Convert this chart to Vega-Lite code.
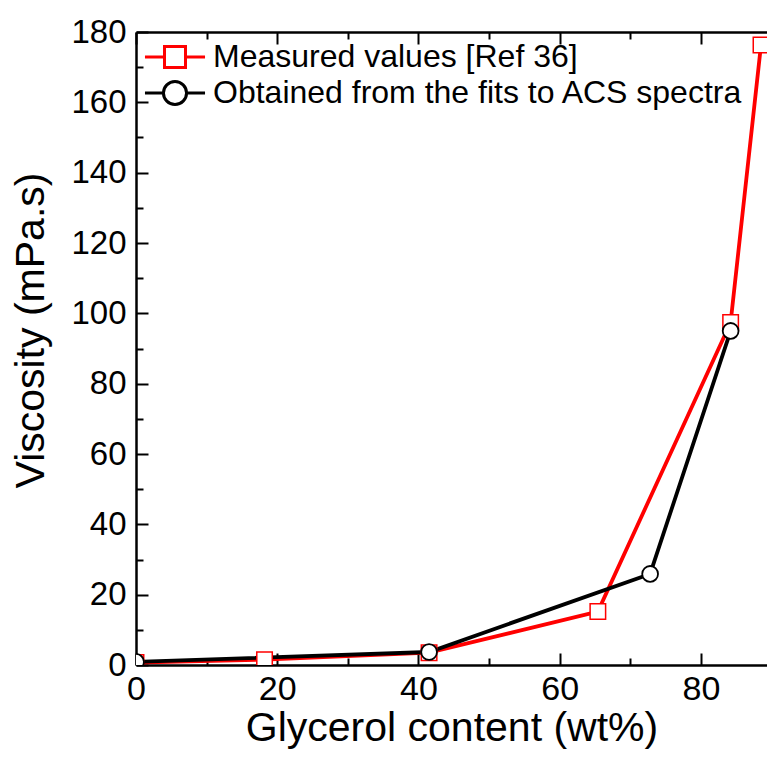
{
  "$schema": "https://vega.github.io/schema/vega-lite/v6.json",
  "width": 631,
  "height": 633,
  "autosize": {"type": "none"},
  "padding": {"left": 136, "top": 32, "right": 0, "bottom": 92},
  "background": "white",
  "config": {
    "view": {"stroke": null},
    "font": "Liberation Sans",
    "axis": {
      "grid": false,
      "domainColor": "black",
      "domainWidth": 2.5,
      "tickColor": "black",
      "tickWidth": 2,
      "labelColor": "black",
      "labelFont": "Liberation Sans",
      "labelFontSize": 33,
      "titleColor": "black",
      "titleFont": "Liberation Sans",
      "titleFontSize": 41,
      "titleFontWeight": "normal"
    }
  },
  "data": {
    "values": [
      {"series": "Measured values [Ref 36]", "glycerol": 0, "viscosity": 0.7},
      {"series": "Measured values [Ref 36]", "glycerol": 18.2, "viscosity": 1.5},
      {"series": "Measured values [Ref 36]", "glycerol": 41.5, "viscosity": 3.5},
      {"series": "Measured values [Ref 36]", "glycerol": 65.4, "viscosity": 15.2},
      {"series": "Measured values [Ref 36]", "glycerol": 84.2, "viscosity": 97.4},
      {"series": "Measured values [Ref 36]", "glycerol": 88.5, "viscosity": 176.3},
      {"series": "Obtained from the fits to ACS spectra", "glycerol": 0, "viscosity": 0.9},
      {"series": "Obtained from the fits to ACS spectra", "glycerol": 41.5, "viscosity": 3.7},
      {"series": "Obtained from the fits to ACS spectra", "glycerol": 72.8, "viscosity": 25.9},
      {"series": "Obtained from the fits to ACS spectra", "glycerol": 84.2, "viscosity": 95.0}
    ]
  },
  "layer": [
    {
      "mark": {"type": "line", "strokeWidth": 3.8, "clip": true},
      "encoding": {
        "x": {
          "field": "glycerol", "type": "quantitative",
          "scale": {"domain": [0, 89.35], "nice": false, "zero": false},
          "axis": {
            "orient": "bottom",
            "title": "Glycerol content (wt%)",
            "values": [0, 10, 20, 30, 40, 50, 60, 70, 80],
            "labelExpr": "datum.value % 20 === 0 ? datum.label : ''",
            "tickSize": {"condition": {"test": "datum.value % 20 === 0", "value": -12}, "value": -7},
            "labelPadding": 19,
            "labelFontSize": 34,
            "labelFlush": false,
            "titlePadding": 2
          }
        },
        "y": {
          "field": "viscosity", "type": "quantitative",
          "scale": {"domain": [0, 180], "nice": false, "zero": false},
          "axis": {
            "orient": "left",
            "title": "Viscosity (mPa.s)",
            "values": [0, 10, 20, 30, 40, 50, 60, 70, 80, 90, 100, 110, 120, 130, 140, 150, 160, 170, 180],
            "labelExpr": "datum.value % 20 === 0 ? datum.label : ''",
            "tickSize": {"condition": {"test": "datum.value % 20 === 0", "value": -12}, "value": -7},
            "labelPadding": 22,
            "labelFlush": false,
            "titlePadding": 18,
            "titleY": 298
          }
        },
        "color": {
          "field": "series", "type": "nominal",
          "scale": {"domain": ["Measured values [Ref 36]", "Obtained from the fits to ACS spectra"], "range": ["#ff0000", "#000000"]},
          "legend": {
            "orient": "none",
            "legendX": 23,
            "legendY": 9,
            "title": null,
            "padding": 0,
            "labelFont": "Liberation Sans",
            "labelFontSize": 32,
            "labelColor": "black",
            "labelOffset": 22,
            "rowPadding": 1,
            "symbolSize": 441,
            "symbolStrokeWidth": 3,
            "labelLimit": 0,
            "encode": {
              "symbols": {
                "update": {
                  "shape": {"signal": "datum.value === 'Measured values [Ref 36]' ? 'M-2.86,0H-1M1,0H2.86M-1,-1H1V1H-1Z' : 'M-2.86,0H-1.1M1.1,0H2.86M-1.1,0A1.1,1.1,0,1,1,1.1,0A1.1,1.1,0,1,1,-1.1,0Z'"},
                  "fill": {"value": "white"},
                  "strokeWidth": {"value": 3},
                  "opacity": {"value": 1}
                }
              }
            }
          }
        }
      }
    },
    {
      "transform": [{"filter": "datum.series === 'Measured values [Ref 36]'"}],
      "mark": {"type": "point", "shape": "square", "filled": false, "fill": "white", "fillOpacity": 1, "opacity": 1, "size": 240, "strokeWidth": 1.5, "clip": true},
      "encoding": {
        "x": {"field": "glycerol", "type": "quantitative", "axis": null},
        "y": {"field": "viscosity", "type": "quantitative", "axis": null},
        "color": {"field": "series", "type": "nominal", "legend": null}
      }
    },
    {
      "transform": [{"filter": "datum.series !== 'Measured values [Ref 36]'"}],
      "mark": {"type": "point", "shape": "circle", "filled": false, "fill": "white", "fillOpacity": 1, "opacity": 1, "size": 250, "strokeWidth": 1.8, "clip": true},
      "encoding": {
        "x": {"field": "glycerol", "type": "quantitative", "axis": null},
        "y": {"field": "viscosity", "type": "quantitative", "axis": null},
        "color": {"field": "series", "type": "nominal", "legend": null}
      }
    },
    {
      "mark": {"type": "point", "opacity": 0},
      "encoding": {
        "x": {
          "field": "glycerol", "type": "quantitative",
          "axis": {
            "orient": "top",
            "title": null,
            "values": [0, 10, 20, 30, 40, 50, 60, 70, 80],
            "labels": false,
            "tickSize": {"condition": {"test": "datum.value % 20 === 0", "value": -12}, "value": -7}
          }
        },
        "y": {"field": "viscosity", "type": "quantitative", "axis": null}
      }
    }
  ],
  "resolve": {"axis": {"x": "independent", "y": "independent"}}
}
